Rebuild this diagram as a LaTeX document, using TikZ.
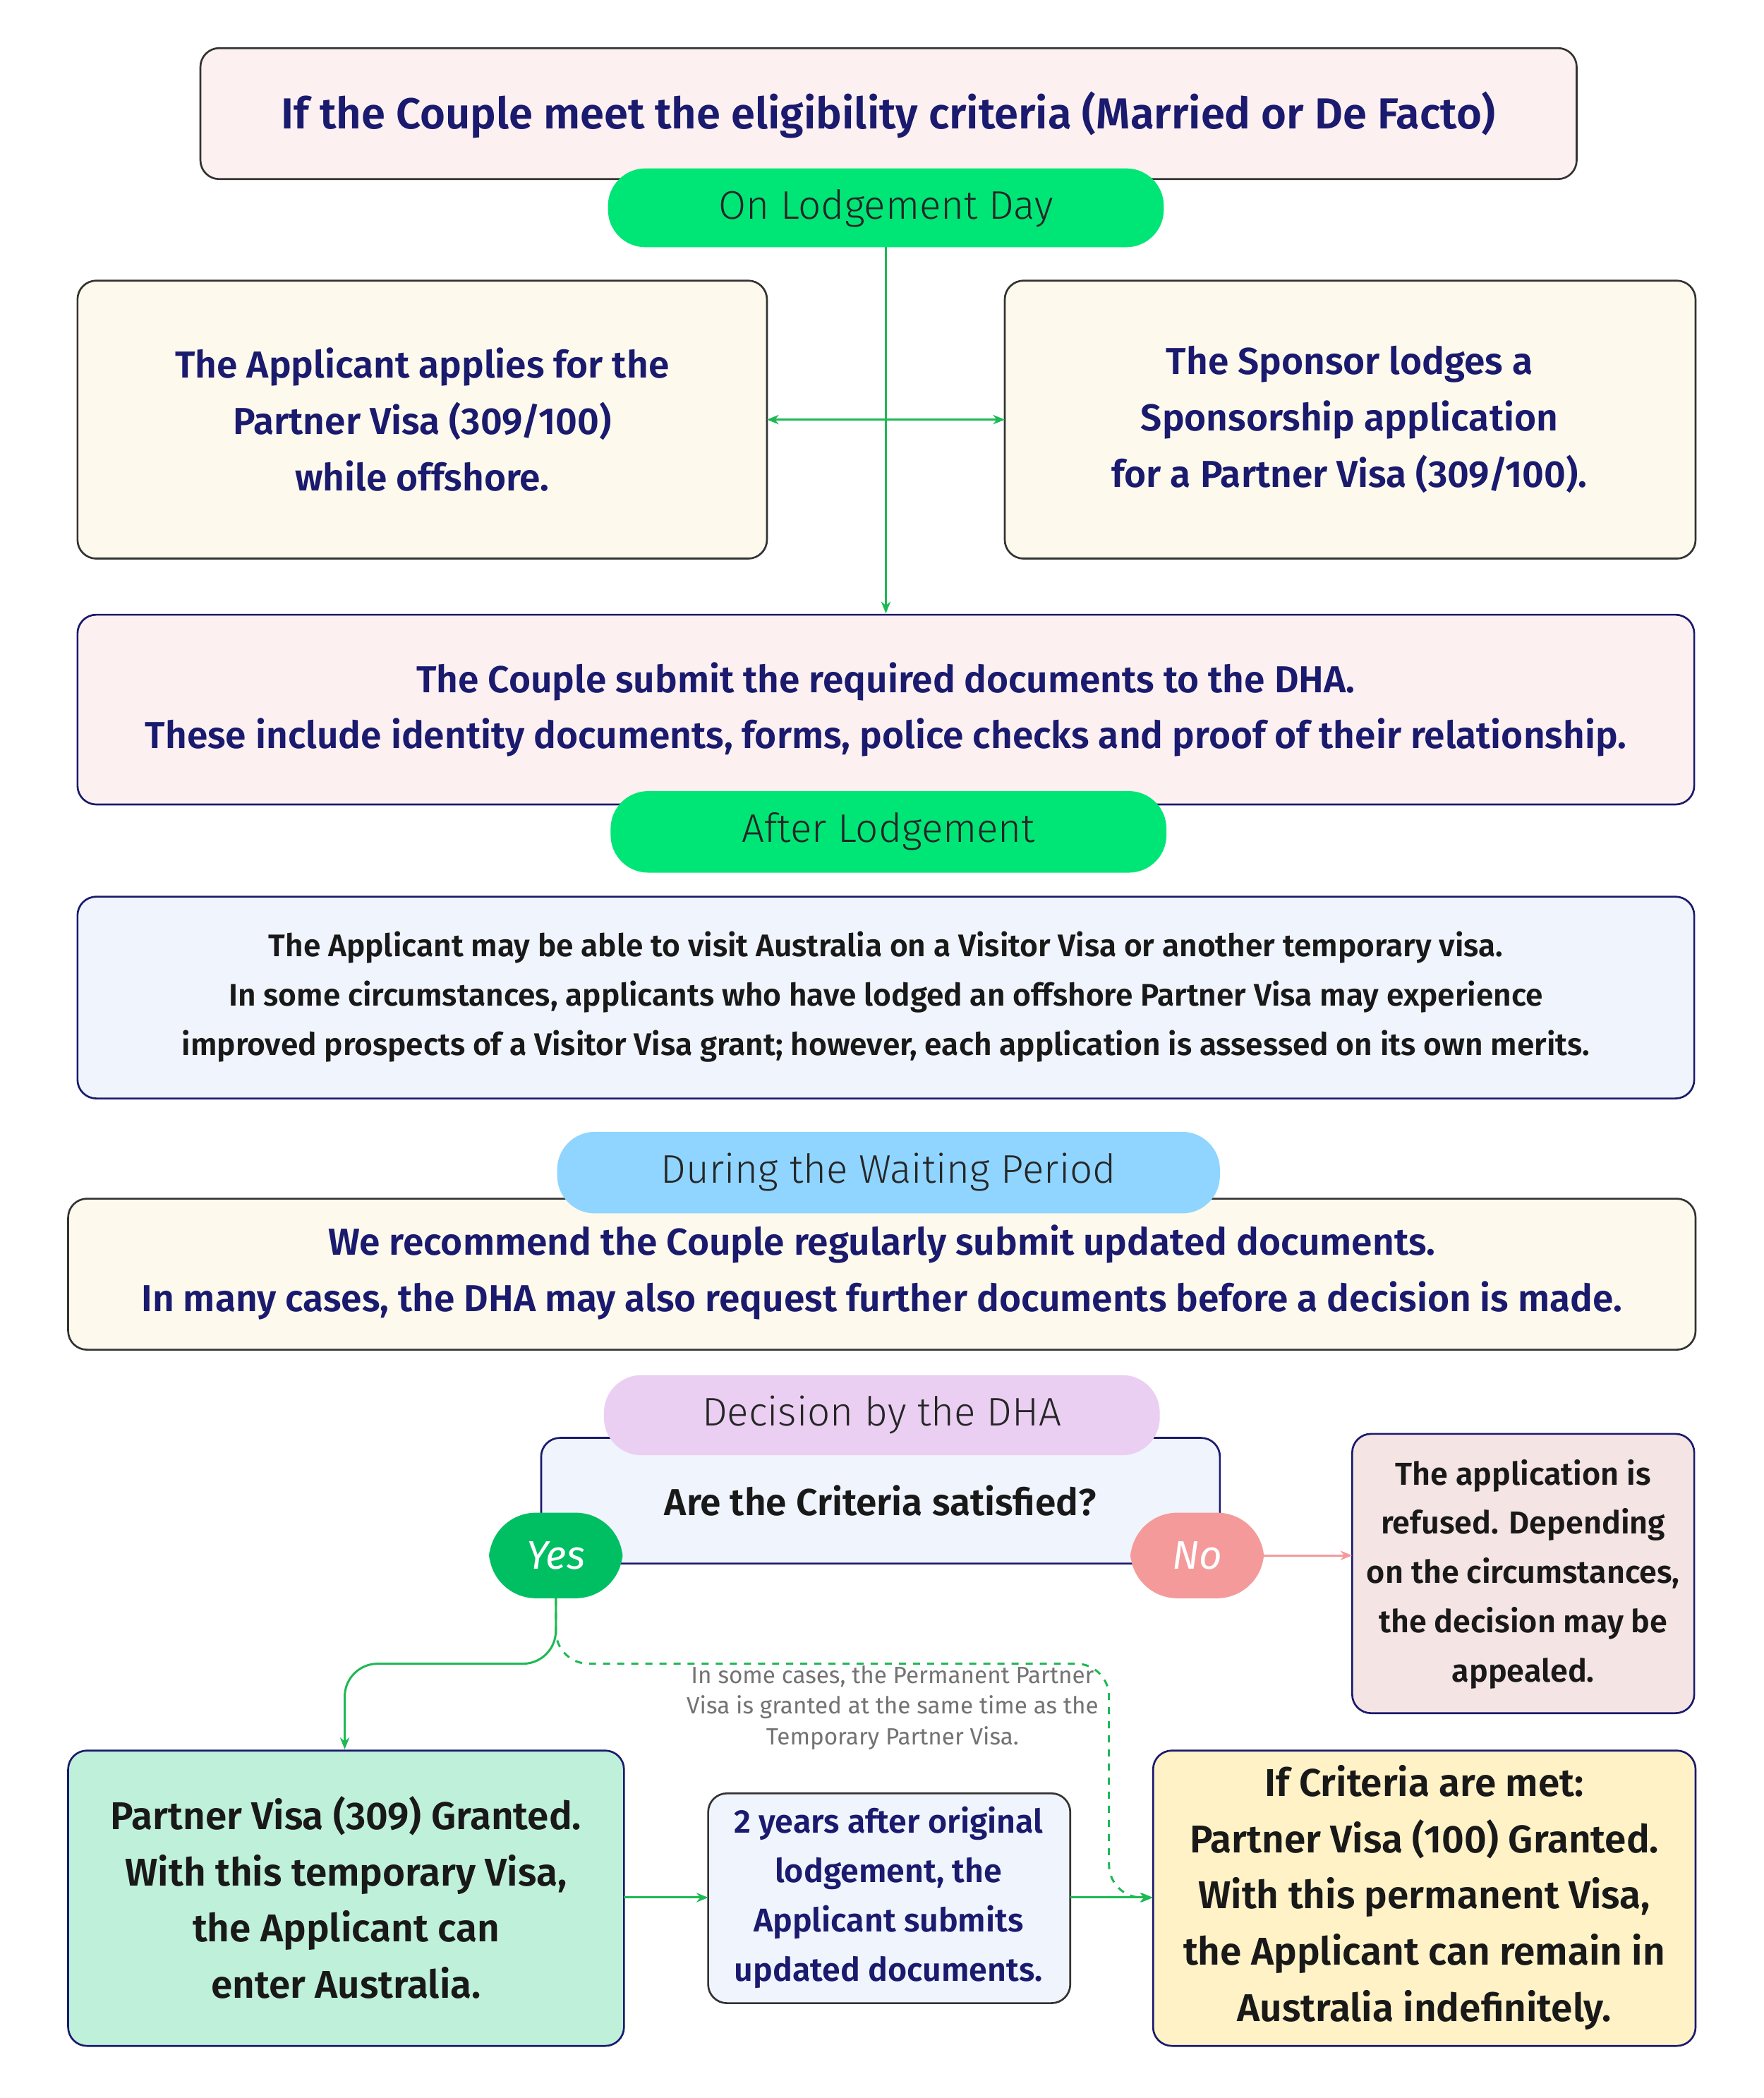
\documentclass[tikz,border=0pt]{standalone}
\usepackage{fontspec}
\setmainfont{Fira Sans}[BoldFont={Fira Sans SemiBold},BoldItalicFont={Fira Sans SemiBold Italic}]
\newfontfamily\pillfont{Fira Sans Light}
\usetikzlibrary{arrows.meta}
\definecolor{navy}{HTML}{1A1A6E}
\definecolor{pinkbg}{HTML}{FDF0F0}
\definecolor{creambg}{HTML}{FDF9EC}
\definecolor{bluebg}{HTML}{F0F4FC}
\definecolor{gpill}{HTML}{00E676}
\definecolor{bpill}{HTML}{90D5FF}
\definecolor{ppill}{HTML}{EBCFF2}
\definecolor{yesc}{HTML}{00BF63}
\definecolor{noc}{HTML}{F49A9A}
\definecolor{refbg}{HTML}{F5E4E4}
\definecolor{mint}{HTML}{BFF0DA}
\definecolor{yel}{HTML}{FFF2C7}
\definecolor{conn}{HTML}{1DB954}
\begin{document}
\begin{tikzpicture}[x=0.02cm,y=-0.02cm,
 box/.style={draw=#1,rounded corners=8pt,line width=0.8pt},
 txt/.style={text=navy,align=center,font=\fontsize{16}{24}\selectfont\bfseries},
 pill/.style={rounded corners=16pt,draw=none},
 ptxt/.style={font=\pillfont\fontsize{17}{20}\selectfont,text=black!85},
 arr/.style={draw=conn,line width=0.9pt,-{Stealth[length=5pt,width=4pt]}}]
\useasboundingbox (0,0) rectangle (1320,1570);
\fill[white] (0,0) rectangle (1320,1570);
% title
\draw[box=black!80,fill=pinkbg] (150,36) rectangle (1180,134);
\node[txt,font=\fontsize{18.5}{22}\selectfont\bfseries] (title) at (665,86) {If the Couple meet the eligibility criteria (Married or De Facto)};
\fill[gpill,pill] (455,126) rectangle (871,185);
\node[ptxt] (p1) at (663,156) {On Lodgement Day};
\coordinate (p1b) at (663,185);
% left/right
\draw[box=black!80,fill=creambg] (58,210) rectangle (574,418);
\node[txt] (la) at (316,314) {The Applicant applies for the\\Partner Visa (309/100)\\while offshore.};
\draw[box=black!80,fill=creambg] (752,210) rectangle (1269,418);
\node[txt] (ra) at (1010,314) {The Sponsor lodges a\\Sponsorship application\\for a Partner Visa (309/100).};
\coordinate (lae) at (574,314); \coordinate (rae) at (752,314); \coordinate (mid) at (663,314);
\coordinate (subt) at (663,459);
\draw[arr] (p1b) -- (subt);
\draw[arr] (mid) -- (lae);
\draw[arr] (mid) -- (rae);
% submit
\draw[box=navy,fill=pinkbg] (58,460) rectangle (1268,602);
\node[txt] (sub) at (663,531) {The Couple submit the required documents to the DHA.\\These include identity documents, forms, police checks and proof of their relationship.};
\fill[gpill,pill] (457,592) rectangle (873,653);
\node[ptxt] (p2) at (665,622) {After Lodgement};
% visitor
\draw[box=navy,fill=bluebg] (58,671) rectangle (1268,822);
\node[txt,text=black!90,font=\fontsize{13.3}{21}\selectfont\bfseries] (vis) at (663,746) {The Applicant may be able to visit Australia on a Visitor Visa or another temporary visa.\\In some circumstances, applicants who have lodged an offshore Partner Visa may experience\\improved prospects of a Visitor Visa grant; however, each application is assessed on its own merits.};
% waiting
\draw[box=black!80,fill=creambg] (51,897) rectangle (1269,1010);
\fill[bpill,pill] (417,847) rectangle (913,908);
\node[ptxt] (p3) at (665,877) {During the Waiting Period};
\node[txt] (wait) at (660,952) {We recommend the Couple regularly submit updated documents.\\In many cases, the DHA may also request further documents before a decision is made.};
% decision
\draw[box=navy,fill=bluebg] (405,1076) rectangle (913,1170);
\fill[ppill,pill] (452,1029) rectangle (868,1089);
\node[ptxt] (p4) at (660,1059) {Decision by the DHA};
\node[txt,text=black!90] (q) at (659,1123) {Are the Criteria satisfied?};
\fill[yesc,rounded corners=20pt] (366,1132) rectangle (466,1196);
\node[text=white,font=\itshape\fontsize{17}{20}\selectfont] (yes) at (416,1164) {Yes};
\fill[noc,rounded corners=20pt] (846,1132) rectangle (946,1196);
\node[text=white,font=\itshape\fontsize{17}{20}\selectfont] (no) at (896,1164) {No};
\draw[box=navy,fill=refbg] (1012,1073) rectangle (1268,1282);
\node[txt,text=black!90,font=\fontsize{13.5}{21}\selectfont\bfseries] (ref) at (1140,1178) {The application is\\refused. Depending\\on the circumstances,\\the decision may be\\appealed.};
\draw[draw=noc,line width=0.9pt,-{Stealth[length=5pt,width=4pt]}] (946,1164) -- (1012,1164);
% bottom boxes
\draw[box=navy,fill=mint] (51,1310) rectangle (467,1531);
\node[txt,text=black!90,font=\fontsize{16.5}{24}\selectfont\bfseries] (b1) at (259,1420) {Partner Visa (309) Granted.\\With this temporary Visa,\\the Applicant can\\enter Australia.};
\draw[box=black!80,fill=bluebg] (530,1342) rectangle (801,1499);
\node[txt,font=\fontsize{14}{21}\selectfont\bfseries] (b2) at (665,1420) {2 years after original\\lodgement, the\\Applicant submits\\updated documents.};
\draw[box=navy,fill=yel] (863,1310) rectangle (1269,1531);
\node[txt,text=black!90,font=\fontsize{16.5}{24}\selectfont\bfseries] (b3) at (1066,1420) {If Criteria are met:\\Partner Visa (100) Granted.\\With this permanent Visa,\\the Applicant can remain in\\Australia indefinitely.};
\coordinate (yb) at (416,1196);
\draw[arr,rounded corners=14pt] (yb) -- (416,1245) -- (258,1245) -- (258,1309);
\draw[arr,dashed,rounded corners=14pt] (yb) -- (416,1245) -- (830,1245) -- (830,1420) -- (862,1420);
\draw[arr] (467,1420) -- (530,1420);
\draw[arr] (801,1420) -- (863,1420);
\node[text=black!55,align=center,font=\fontsize{10}{13}\selectfont] (note) at (668,1278) {In some cases, the Permanent Partner\\Visa is granted at the same time as the\\Temporary Partner Visa.};
\end{tikzpicture}
\end{document}
